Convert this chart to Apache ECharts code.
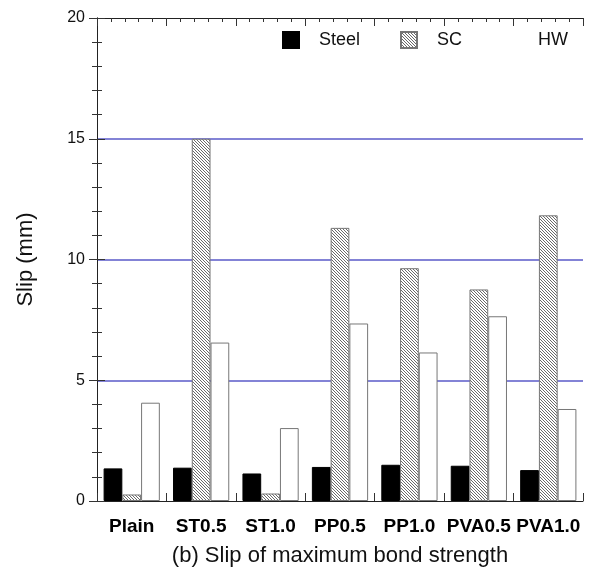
<!DOCTYPE html>
<html>
<head>
<meta charset="utf-8">
<script src="https://cdn.jsdelivr.net/npm/echarts@6/dist/echarts.min.js"></script>
<style>html,body{margin:0;padding:0;background:#fff}#c{width:596px;height:572px}</style>
</head>
<body>
<div id="c"></div>
<script>
var categories = ['Plain', 'ST0.5', 'ST1.0', 'PP0.5', 'PP1.0', 'PVA0.5', 'PVA1.0'];
var steel = [1.35, 1.38, 1.14, 1.41, 1.50, 1.46, 1.28];
var sc = [0.27, 15.0, 0.31, 11.31, 9.64, 8.76, 11.83];
var hw = [4.07, 6.56, 3.02, 7.35, 6.15, 7.65, 3.81];
var yTicks = [0, 5, 10, 15, 20];

var FONT = 'Arial, "Liberation Sans", sans-serif';

// hatch pattern for SC
function makeHatch() {
  var cv = document.createElement('canvas');
  cv.width = 3; cv.height = 3;
  var ctx = cv.getContext('2d');
  ctx.fillStyle = '#ffffff';
  ctx.fillRect(0, 0, 3, 3);
  ctx.fillStyle = '#6a6a6a';
  for (var i = 0; i < 3; i++) ctx.fillRect(i, i, 1, 1);
  return cv;
}
var hatch = { image: makeHatch(), repeat: 'repeat' };

var chart = echarts.init(document.getElementById('c'), null, { renderer: 'canvas' });

var tickAxisBase = {
  type: 'value', min: 0, max: 7, interval: 1, gridIndex: 0,
  axisLine: { show: false },
  axisTick: { show: true, inside: true, length: 8, lineStyle: { color: '#333', width: 1 } },
  minorTick: { show: true, splitNumber: 5, length: 4, lineStyle: { color: '#333', width: 1 } },
  axisLabel: { show: false },
  splitLine: { show: false }
};

function legendAt(left, name) {
  return {
    show: true, left: left, top: 26, orient: 'horizontal',
    itemWidth: 16, itemHeight: 16, selectedMode: false,
    icon: 'rect',
    data: [name],
    textStyle: { fontFamily: FONT, fontSize: 18, color: '#111', padding: [0, 0, 0, 15] }
  };
}

var option = {
  animation: false,
  backgroundColor: '#ffffff',
  grid: { left: 97, right: 13, top: 18, bottom: 68, containLabel: false },
  legend: [
    legendAt(277, 'Steel'),
    legendAt(395, 'SC'),
    Object.assign(legendAt(497, 'HW'), { itemStyle: { borderWidth: 0 } })
  ],
  xAxis: [
    {
      type: 'category', data: categories, position: 'bottom',
      axisLine: { show: true, lineStyle: { color: '#222', width: 1 } },
      axisTick: { show: false },
      axisLabel: { fontFamily: FONT, fontSize: 19, fontWeight: 'bold', color: '#000', margin: 16, interval: 0 },
      name: '(b) Slip of maximum bond strength',
      nameLocation: 'middle', nameGap: 44,
      nameTextStyle: { fontFamily: FONT, fontSize: 22, color: '#111' }
    },
    Object.assign({}, tickAxisBase, { position: 'bottom' }),
    Object.assign({}, tickAxisBase, { position: 'top', axisLine: { show: true, lineStyle: { color: '#222', width: 1 } } })
  ],
  yAxis: [
    {
      type: 'value', min: 0, max: 20, interval: 5, position: 'left',
      axisLine: { show: true, lineStyle: { color: '#222', width: 1 } },
      axisTick: { show: true, inside: true, length: 8, lineStyle: { color: '#333' } },
      minorTick: { show: true, splitNumber: 5, length: 5, lineStyle: { color: '#333' } },
      axisLabel: { fontFamily: FONT, fontSize: 16, color: '#111', margin: 12,
        customValues: yTicks },
      splitLine: { show: true, showMinLine: false, showMaxLine: false, lineStyle: { color: '#5a5ac8', width: 1.5 } },
      name: 'Slip (mm)', nameLocation: 'middle', nameGap: 60,
      nameTextStyle: { fontFamily: FONT, fontSize: 22, color: '#111' }
    },
    {
      type: 'value', min: 0, max: 20, interval: 5, position: 'right',
      axisLine: { show: true, lineStyle: { color: '#222', width: 1 } },
      axisTick: { show: true, inside: true, length: 8, lineStyle: { color: '#333' } },
      minorTick: { show: true, splitNumber: 5, length: 5, lineStyle: { color: '#333' } },
      axisLabel: { show: false },
      splitLine: { show: false }
    }
  ],
  series: [
    {
      name: 'Steel', type: 'bar', data: steel, xAxisIndex: 0, yAxisIndex: 0,
      barGap: '0%', barCategoryGap: '19%',
      itemStyle: { color: '#000', borderColor: '#000', borderWidth: 1 }
    },
    {
      name: 'SC', type: 'bar', data: sc, xAxisIndex: 0, yAxisIndex: 0,
      barGap: '0%', barCategoryGap: '19%',
      itemStyle: { color: hatch, borderColor: '#777', borderWidth: 1 }
    },
    {
      name: 'HW', type: 'bar', data: hw, xAxisIndex: 0, yAxisIndex: 0,
      barGap: '0%', barCategoryGap: '19%',
      itemStyle: { color: '#fff', borderColor: '#777', borderWidth: 1 }
    }
  ]
};
chart.setOption(option);
</script>
</body>
</html>
